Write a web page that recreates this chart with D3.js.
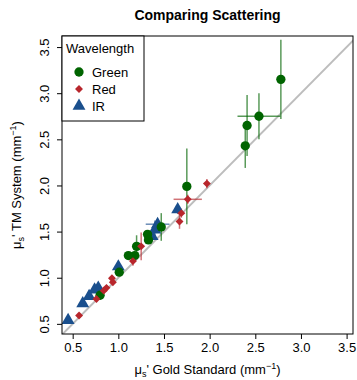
<!DOCTYPE html>
<html>
<head>
<meta charset="utf-8">
<script src="https://cdn.jsdelivr.net/npm/d3@7"></script>
<style>
  body { margin: 0; background: #fff; }
  text { font-family: "Liberation Sans", Arial, Helvetica, sans-serif; }
</style>
</head>
<body>
<div id="chart"></div>
<script>
// gold standard (x) vs TM system (y), with half error widths
const greenX = [2.78, 2.54, 2.41, 2.39, 1.75, 1.47, 1.32, 1.33, 1.20, 1.11, 1.18, 1.01, 0.80];
const greenY = [3.15, 2.75, 2.65, 2.43, 1.99, 1.55, 1.47, 1.41, 1.34, 1.24, 1.24, 1.06, 0.81];
const greenXErr = [0, 0.235, 0, 0, 0, 0, 0, 0, 0, 0, 0, 0, 0];
const greenYErr = [0.43, 0.25, 0.33, 0.24, 0.41, 0.15, 0.03, 0.03, 0.12, 0.03, 0.03, 0.03, 0.05];

const redX = [1.97, 1.76, 1.69, 1.67, 1.25, 1.16, 0.93, 0.94, 0.87, 0.84, 0.76, 0.57];
const redY = [2.02, 1.85, 1.70, 1.61, 1.34, 1.18, 0.995, 0.95, 0.89, 0.86, 0.77, 0.59];
const redXErr = [0, 0.155, 0, 0, 0, 0, 0, 0, 0, 0, 0, 0];
const redYErr = [0.05, 0.05, 0.05, 0.08, 0.15, 0.05, 0.03, 0.03, 0.03, 0.03, 0.03, 0.02];

const irX = [1.65, 1.43, 1.40, 1.37, 1.00, 0.78, 0.74, 0.68, 0.61, 0.45];
const irY = [1.74, 1.58, 1.52, 1.45, 1.12, 0.89, 0.87, 0.80, 0.72, 0.54];
const irXErr = [0, 0.13, 0, 0, 0, 0, 0, 0, 0, 0];
const irYErr = [0.05, 0.05, 0.1, 0, 0, 0, 0, 0, 0, 0];

const ticks = [0.5, 1.0, 1.5, 2.0, 2.5, 3.0, 3.5];
const seriesNames = ["Green", "Red", "IR"];

const width = 357, height = 380;
const margin = { top: 36, right: 4, bottom: 46, left: 62 };

const colors = { Green: "#006400", Red: "#b8262c", IR: "#1a4f8d" };
const shapes = { Green: d3.symbolCircle, Red: d3.symbolDiamond2, IR: d3.symbolTriangle };
const sizes = { Green: 68, Red: 40, IR: 72 };

const svg = d3.select("#chart").append("svg")
  .attr("width", width).attr("height", height);

const x = d3.scaleLinear().domain([0.383, 3.57]).range([margin.left, width - margin.right]);
const y = d3.scaleLinear().domain([0.39, 3.62]).range([height - margin.bottom, margin.top]);

function makeSeries(name, xs, ys, xe, ye) {
  return xs.map((v, i) => ({ name, x: v, y: ys[i], xe: xe[i], ye: ye[i] }));
}
const series = {
  Green: makeSeries("Green", greenX, greenY, greenXErr, greenYErr),
  Red: makeSeries("Red", redX, redY, redXErr, redYErr),
  IR: makeSeries("IR", irX, irY, irXErr, irYErr)
};

svg.append("clipPath").attr("id", "clip").append("rect")
  .attr("x", margin.left).attr("y", margin.top)
  .attr("width", width - margin.left - margin.right)
  .attr("height", height - margin.top - margin.bottom);

const plot = svg.append("g").attr("clip-path", "url(#clip)");

// identity line
plot.append("line")
  .attr("x1", x(0)).attr("y1", y(0))
  .attr("x2", x(4)).attr("y2", y(4))
  .attr("stroke", "#bdbdbd").attr("stroke-width", 2);

// error bars
for (const name of seriesNames) {
  const g = plot.append("g").attr("stroke", colors[name]).attr("stroke-opacity", 0.65).attr("stroke-width", 1.5);
  series[name].filter(d => d.ye > 0).forEach(d => {
    g.append("line").attr("x1", x(d.x)).attr("x2", x(d.x))
      .attr("y1", y(d.y - d.ye)).attr("y2", y(d.y + d.ye));
  });
  series[name].filter(d => d.xe > 0).forEach(d => {
    g.append("line").attr("y1", y(d.y)).attr("y2", y(d.y))
      .attr("x1", x(d.x - d.xe)).attr("x2", x(d.x + d.xe));
  });
}

// points
for (const name of ["IR", "Green", "Red"]) {
  plot.selectAll(null).data(series[name]).enter().append("path")
    .attr("d", d3.symbol().type(shapes[name]).size(sizes[name]))
    .attr("transform", d => `translate(${x(d.x)},${y(d.y)})`)
    .attr("fill", colors[name]);
}

// axes
const xAxis = svg.append("g")
  .attr("transform", `translate(0,${height - margin.bottom})`)
  .call(d3.axisBottom(x).tickValues(ticks).tickFormat(d3.format(".1f")).tickSize(5).tickPadding(4));
const yAxis = svg.append("g")
  .attr("transform", `translate(${margin.left},0)`)
  .call(d3.axisLeft(y).tickValues(ticks).tickFormat(d3.format(".1f")).tickSize(5).tickPadding(4));
for (const ax of [xAxis, yAxis]) {
  ax.select(".domain").remove();
  ax.selectAll("text").attr("font-size", 13).attr("fill", "#000")
    .attr("font-family", "Liberation Sans, Arial, sans-serif");
  ax.selectAll("line").attr("stroke", "#000");
}
yAxis.selectAll(".tick text")
  .attr("transform", "rotate(-90)")
  .attr("x", 0).attr("y", -13)
  .attr("dy", 0)
  .attr("text-anchor", "middle");

// box
svg.append("rect")
  .attr("x", margin.left).attr("y", margin.top)
  .attr("width", width - margin.left - margin.right)
  .attr("height", height - margin.top - margin.bottom)
  .attr("fill", "none").attr("stroke", "#000").attr("stroke-width", 1);

// title
const cx = (margin.left + width - margin.right) / 2;
svg.append("text").attr("x", cx).attr("y", 20)
  .attr("text-anchor", "middle").attr("font-weight", "bold").attr("font-size", 14)
  .text("Comparing Scattering");

// axis labels
function axisLabel(t, rest) {
  t.append("tspan").text("\u03bc");
  t.append("tspan").attr("font-size", 9).attr("dy", 3).text("s");
  t.append("tspan").attr("dy", -3).text("' " + rest + " (mm");
  t.append("tspan").attr("font-size", 9).attr("dy", -5).text("\u22121");
  t.append("tspan").attr("dy", 5).text(")");
}
const xl = svg.append("text").attr("x", cx).attr("y", 374)
  .attr("text-anchor", "middle").attr("font-size", 13);
axisLabel(xl, "Gold Standard");
const yl = svg.append("text")
  .attr("transform", `translate(21,${(margin.top + height - margin.bottom) / 2}) rotate(-90)`)
  .attr("text-anchor", "middle").attr("font-size", 13);
axisLabel(yl, "TM System");

// legend
const legend = svg.append("g");
legend.append("rect")
  .attr("x", margin.left).attr("y", margin.top)
  .attr("width", 82).attr("height", 85)
  .attr("fill", "#fff").attr("stroke", "#000");
legend.append("text").attr("x", margin.left + 4).attr("y", margin.top + 17)
  .attr("font-size", 13).text("Wavelength");
const items = legend.selectAll(".item").data(seriesNames).enter().append("g")
  .attr("transform", (d, i) => `translate(${margin.left + 17},${margin.top + 36 + i * 17})`);
items.append("path")
  .attr("d", d => d3.symbol().type(shapes[d]).size(sizes[d])())
  .attr("fill", d => colors[d]);
items.append("text").attr("x", 13).attr("y", 5)
  .attr("font-size", 13).text(d => d);
</script>
</body>
</html>
